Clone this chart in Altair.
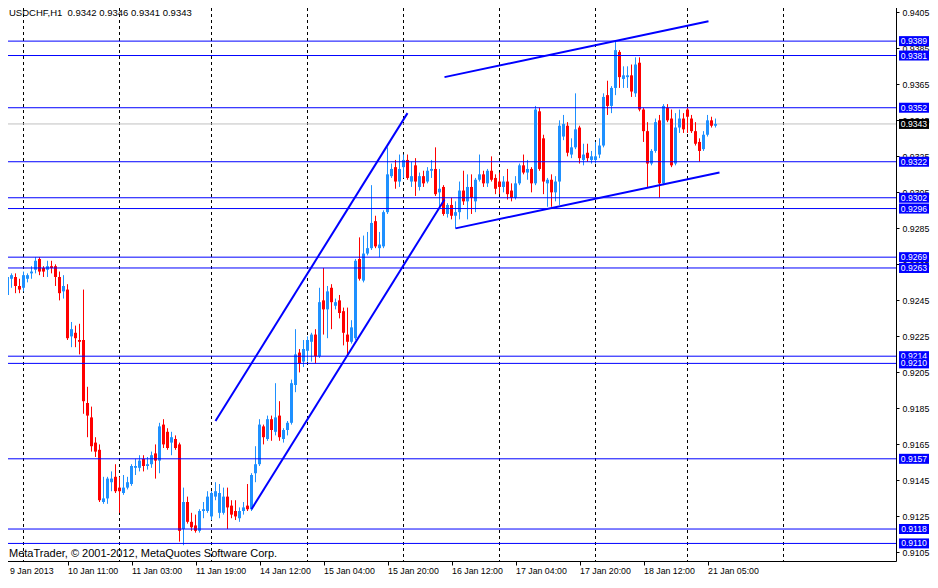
import json

import altair as alt
import pandas as pd

# USDCHF H1 candles, 9 Jan 2013 19:00 .. 21 Jan 2013 07:00 (one per bar slot)
opens = [
    0.9244, 0.9248, 0.9257, 0.9258, 0.9253, 0.9252, 0.9257, 0.9260, 0.9262, 0.9268,
    0.9263, 0.9262, 0.9264, 0.9264, 0.9258, 0.9250, 0.9251, 0.9225, 0.9227, 0.9223,
    0.9223, 0.9188, 0.9180, 0.9166, 0.9162, 0.9133, 0.9135, 0.9144, 0.9147, 0.9141,
    0.9138, 0.9141, 0.9143, 0.9152, 0.9152, 0.9157, 0.9153, 0.9154, 0.9160, 0.9156,
    0.9176, 0.9172, 0.9166, 0.9168, 0.9165, 0.9118, 0.9133, 0.9122, 0.9120, 0.9117,
    0.9128, 0.9128, 0.9125, 0.9136, 0.9127, 0.9127, 0.9136, 0.9131, 0.9128, 0.9124,
    0.9128, 0.9131, 0.9129, 0.9149, 0.9154, 0.9175, 0.9168, 0.9179, 0.9172, 0.9181,
    0.9168, 0.9173, 0.9177, 0.9198, 0.9216, 0.9211, 0.9217, 0.9222, 0.9226, 0.9214,
    0.9245, 0.9240, 0.9252, 0.9242, 0.9245, 0.9239, 0.9226, 0.9222, 0.9224, 0.9268,
    0.9256, 0.9271, 0.9274, 0.9289, 0.9274, 0.9275, 0.9294, 0.9314, 0.9319, 0.9311,
    0.9319, 0.9323, 0.9311, 0.9320, 0.9308, 0.9314, 0.9311, 0.9317, 0.9318, 0.9305,
    0.9308, 0.9293, 0.9298, 0.9292, 0.9294, 0.9306, 0.9300, 0.9308, 0.9300, 0.9312,
    0.9315, 0.9310, 0.9317, 0.9313, 0.9311, 0.9308, 0.9311, 0.9306, 0.9302, 0.9310,
    0.9320, 0.9316, 0.9318, 0.9310, 0.9350, 0.9335, 0.9310, 0.9312, 0.9305, 0.9311,
    0.9336, 0.9342, 0.9326, 0.9330, 0.9341, 0.9323, 0.9327, 0.9323, 0.9323, 0.9326,
    0.9331, 0.9359, 0.9353, 0.9363, 0.9383, 0.9368, 0.9369, 0.9370, 0.9360, 0.9377,
    0.9351, 0.9339, 0.9321, 0.9328, 0.9345, 0.9310, 0.9352, 0.9346, 0.9321, 0.9341,
    0.9346, 0.9351, 0.9346, 0.9339, 0.9333, 0.9329, 0.9337, 0.9345, 0.9342,
]
highs = [
    0.9253, 0.9263, 0.9260, 0.9260, 0.9257, 0.9261, 0.9260, 0.9264, 0.9269, 0.9269,
    0.9264, 0.9267, 0.9267, 0.9265, 0.9261, 0.9259, 0.9254, 0.9233, 0.9231, 0.9232,
    0.9251, 0.9197, 0.9186, 0.9169, 0.9165, 0.9147, 0.9147, 0.9150, 0.9154, 0.9147,
    0.9148, 0.9147, 0.9154, 0.9157, 0.9159, 0.9159, 0.9158, 0.9161, 0.9165, 0.9177,
    0.9179, 0.9174, 0.9172, 0.9170, 0.9166, 0.9141, 0.9136, 0.9127, 0.9126, 0.9129,
    0.9133, 0.9139, 0.9139, 0.9144, 0.9143, 0.9141, 0.9141, 0.9134, 0.9134, 0.9130,
    0.9133, 0.9143, 0.9149, 0.9164, 0.9179, 0.9176, 0.9181, 0.9181, 0.9199, 0.9189,
    0.9174, 0.9178, 0.9201, 0.9229, 0.9218, 0.9223, 0.9225, 0.9227, 0.9229, 0.9252,
    0.9263, 0.9253, 0.9254, 0.9246, 0.9248, 0.9241, 0.9241, 0.9234, 0.9268, 0.9280,
    0.9281, 0.9283, 0.9309, 0.9292, 0.9283, 0.9295, 0.9330, 0.9321, 0.9323, 0.9326,
    0.9326, 0.9326, 0.9322, 0.9324, 0.9316, 0.9317, 0.9319, 0.9323, 0.9330, 0.9318,
    0.9309, 0.9299, 0.9302, 0.9300, 0.9311, 0.9317, 0.9315, 0.9315, 0.9313, 0.9326,
    0.9317, 0.9318, 0.9325, 0.9315, 0.9316, 0.9314, 0.9318, 0.9310, 0.9314, 0.9321,
    0.9326, 0.9323, 0.9319, 0.9353, 0.9352, 0.9337, 0.9313, 0.9315, 0.9314, 0.9345,
    0.9348, 0.9344, 0.9335, 0.9360, 0.9342, 0.9332, 0.9332, 0.9328, 0.9333, 0.9335,
    0.9360, 0.9367, 0.9364, 0.9389, 0.9384, 0.9375, 0.9375, 0.9376, 0.9380, 0.9380,
    0.9352, 0.9344, 0.9329, 0.9346, 0.9348, 0.9354, 0.9354, 0.9351, 0.9349, 0.9351,
    0.9349, 0.9352, 0.9348, 0.9344, 0.9335, 0.9339, 0.9348, 0.9347, 0.9346,
]
lows = [
    0.9241, 0.9246, 0.9252, 0.9249, 0.9249, 0.9250, 0.9255, 0.9257, 0.9260, 0.9259,
    0.9258, 0.9258, 0.9260, 0.9253, 0.9245, 0.9246, 0.9223, 0.9219, 0.9219, 0.9215,
    0.9182, 0.9169, 0.9161, 0.9158, 0.9133, 0.9132, 0.9132, 0.9139, 0.9138, 0.9127,
    0.9137, 0.9140, 0.9142, 0.9148, 0.9150, 0.9150, 0.9151, 0.9152, 0.9146, 0.9149,
    0.9163, 0.9162, 0.9159, 0.9162, 0.9111, 0.9109, 0.9121, 0.9117, 0.9116, 0.9116,
    0.9124, 0.9127, 0.9123, 0.9134, 0.9124, 0.9126, 0.9118, 0.9124, 0.9123, 0.9122,
    0.9126, 0.9128, 0.9128, 0.9144, 0.9153, 0.9165, 0.9167, 0.9167, 0.9170, 0.9167,
    0.9166, 0.9170, 0.9176, 0.9194, 0.9205, 0.9208, 0.9211, 0.9211, 0.9210, 0.9213,
    0.9226, 0.9224, 0.9229, 0.9240, 0.9235, 0.9220, 0.9215, 0.9221, 0.9223, 0.9256,
    0.9255, 0.9270, 0.9273, 0.9274, 0.9269, 0.9274, 0.9293, 0.9313, 0.9307, 0.9308,
    0.9313, 0.9312, 0.9308, 0.9303, 0.9306, 0.9308, 0.9310, 0.9313, 0.9303, 0.9297,
    0.9292, 0.9291, 0.9290, 0.9285, 0.9290, 0.9298, 0.9290, 0.9293, 0.9294, 0.9311,
    0.9308, 0.9308, 0.9311, 0.9304, 0.9304, 0.9305, 0.9301, 0.9300, 0.9301, 0.9309,
    0.9315, 0.9312, 0.9305, 0.9309, 0.9317, 0.9304, 0.9297, 0.9297, 0.9300, 0.9298,
    0.9334, 0.9325, 0.9324, 0.9329, 0.9321, 0.9320, 0.9322, 0.9321, 0.9321, 0.9324,
    0.9330, 0.9348, 0.9349, 0.9359, 0.9363, 0.9363, 0.9363, 0.9358, 0.9358, 0.9350,
    0.9333, 0.9308, 0.9320, 0.9327, 0.9302, 0.9309, 0.9344, 0.9319, 0.9320, 0.9338,
    0.9338, 0.9338, 0.9338, 0.9331, 0.9322, 0.9328, 0.9336, 0.9341, 0.9341,
]
closes = [
    0.9247, 0.9258, 0.9259, 0.9253, 0.9251, 0.9259, 0.9259, 0.9261, 0.9267, 0.9261,
    0.9261, 0.9264, 0.9263, 0.9258, 0.9249, 0.9253, 0.9224, 0.9229, 0.9224, 0.9222,
    0.9189, 0.9181, 0.9164, 0.9161, 0.9134, 0.9135, 0.9146, 0.9146, 0.9139, 0.9139,
    0.9141, 0.9144, 0.9153, 0.9153, 0.9156, 0.9153, 0.9154, 0.9159, 0.9156, 0.9175,
    0.9165, 0.9163, 0.9169, 0.9163, 0.9117, 0.9133, 0.9122, 0.9119, 0.9117, 0.9128,
    0.9129, 0.9136, 0.9138, 0.9139, 0.9138, 0.9136, 0.9130, 0.9126, 0.9125, 0.9128,
    0.9130, 0.9129, 0.9148, 0.9154, 0.9176, 0.9169, 0.9179, 0.9173, 0.9180, 0.9169,
    0.9173, 0.9177, 0.9199, 0.9215, 0.9210, 0.9218, 0.9223, 0.9226, 0.9214, 0.9244,
    0.9240, 0.9250, 0.9244, 0.9244, 0.9238, 0.9227, 0.9222, 0.9230, 0.9267, 0.9257,
    0.9271, 0.9274, 0.9288, 0.9275, 0.9276, 0.9294, 0.9315, 0.9318, 0.9311, 0.9318,
    0.9323, 0.9313, 0.9314, 0.9311, 0.9314, 0.9310, 0.9317, 0.9318, 0.9304, 0.9307,
    0.9293, 0.9298, 0.9292, 0.9294, 0.9306, 0.9300, 0.9308, 0.9302, 0.9312, 0.9315,
    0.9310, 0.9317, 0.9312, 0.9307, 0.9308, 0.9311, 0.9304, 0.9302, 0.9310, 0.9320,
    0.9316, 0.9318, 0.9310, 0.9351, 0.9318, 0.9311, 0.9312, 0.9305, 0.9311, 0.9342,
    0.9343, 0.9327, 0.9330, 0.9340, 0.9324, 0.9326, 0.9324, 0.9325, 0.9325, 0.9331,
    0.9358, 0.9353, 0.9363, 0.9384, 0.9369, 0.9370, 0.9370, 0.9361, 0.9376, 0.9351,
    0.9339, 0.9321, 0.9328, 0.9344, 0.9310, 0.9353, 0.9345, 0.9320, 0.9341, 0.9346,
    0.9340, 0.9347, 0.9339, 0.9332, 0.9328, 0.9337, 0.9345, 0.9342, 0.9343,
]

# horizontal support / resistance levels and the current bid
levels = [0.9389, 0.9381, 0.9352, 0.9322, 0.9302, 0.9296, 0.9269, 0.9263,
          0.9214, 0.9210, 0.9157, 0.9118, 0.9110]
bid = 0.9343

# trend lines: (bar, price) -> (bar, price)
trend_x1 = [53, 62, 110.25, 113]
trend_y1 = [0.9178, 0.9129, 0.9369, 0.9285]
trend_x2 = [101, 110.25, 176.25, 179]
trend_y2 = [0.9349, 0.9301, 0.9400, 0.9316]

price_ticks = [0.9105, 0.9125, 0.9145, 0.9165, 0.9185, 0.9205, 0.9225, 0.9245,
               0.9265, 0.9285, 0.9305, 0.9325, 0.9345, 0.9365, 0.9385, 0.9405]
time_ticks = [0, 16, 32, 48, 64, 80, 96, 112, 128, 144, 160, 176]
time_labels = ["9 Jan 2013", "10 Jan 11:00", "11 Jan 03:00", "11 Jan 19:00",
               "14 Jan 12:00", "15 Jan 04:00", "15 Jan 20:00", "16 Jan 12:00",
               "17 Jan 04:00", "17 Jan 20:00", "18 Jan 12:00", "21 Jan 05:00"]
day_starts = [5, 29, 52, 76, 100, 124, 148, 171, 195]

# plot area; kept a little under the 938x588 window so the page never overflows
W, H = 894, 559
FONT = "Liberation Sans"
BLUE_UP = "#1e90ff"
RED_DN = "#ff0000"
LINE_BLUE = "#0000ff"

bars = pd.DataFrame({"bar": range(len(opens)), "open": opens, "high": highs,
                     "low": lows, "close": closes})
bars["dir"] = ["up" if c >= o else "down" for o, c in zip(opens, closes)]

x_scale = alt.Scale(domain=[-0.375, -0.375 + W / 4], nice=False, zero=False, padding=0)
y_scale = alt.Scale(domain=[0.910024, 0.941073], nice=False, zero=False, padding=0)
color = alt.Color("dir:N", scale=alt.Scale(domain=["up", "down"], range=[BLUE_UP, RED_DN]),
                  legend=None)

# same axis objects go on every layer so the layered axes merge instead of vanishing
x_axis = alt.Axis(
    values=time_ticks,
    labelExpr=json.dumps(time_labels) + "[round(datum.value / 16)]",
    orient="bottom", title=None, grid=False, domain=False,
    tickSize=4, tickColor="black", labelPadding=1, labelAlign="left",
    labelBaseline="top", labelFont=FONT, labelFontSize=8.8, labelColor="black",
    labelOverlap=False, labelFlush=False,
    labelOffset=alt.condition("datum.value == 0", alt.value(6), alt.value(0)),
)
y_axis = alt.Axis(
    values=price_ticks, format=".4f", orient="right", title=None, grid=False,
    domain=False, tickSize=3, tickColor="black", labelPadding=3, labelAlign="left",
    labelBaseline="middle", labelFont=FONT, labelFontSize=8.8, labelColor="black",
    labelOverlap=False,
)


def X(field):
    return alt.X(field, scale=x_scale, axis=x_axis)


def Y(field):
    return alt.Y(field, scale=y_scale, axis=y_axis)


grid = (
    alt.Chart(pd.DataFrame({"bar": day_starts}))
    .mark_rule(color="black", strokeDash=[3, 3], strokeWidth=1)
    .encode(x=X("bar:Q"), y=alt.value(0), y2=alt.value(H))
)

bid_line = (
    alt.Chart(pd.DataFrame({"price": [bid]}))
    .mark_rule(color="#c0c0c0", strokeWidth=1)
    .encode(y=Y("price:Q"), x=alt.value(0), x2=alt.value(W))
)

wicks = (
    alt.Chart(bars)
    .mark_rule(strokeWidth=1)
    .encode(x=X("bar:Q"), y=Y("low:Q"), y2="high:Q", color=color)
)

bodies = (
    alt.Chart(bars)
    .mark_bar(width=3)
    .encode(x=X("bar:Q"), y=Y("open:Q"), y2="close:Q", color=color)
)

level_df = pd.DataFrame({"price": levels})
level_lines = (
    alt.Chart(level_df)
    .mark_rule(color=LINE_BLUE, strokeWidth=1)
    .encode(y=Y("price:Q"), x=alt.value(0), x2=alt.value(W))
)

trend_df = pd.DataFrame({"x1": trend_x1, "y1": trend_y1, "x2": trend_x2, "y2": trend_y2})
trends = (
    alt.Chart(trend_df)
    .mark_rule(color=LINE_BLUE, strokeWidth=2)
    .encode(x=X("x1:Q"), x2="x2:Q", y=Y("y1:Q"), y2="y2:Q")
)


def price_tag(price, fill):
    df = pd.DataFrame({"price": [price]})
    box = (
        alt.Chart(df)
        .mark_rect(color=fill, yOffset=-5, y2Offset=5)
        .encode(y=Y("price:Q"), y2="price:Q", x=alt.value(W + 3), x2=alt.value(W + 33))
    )
    txt = (
        alt.Chart(df)
        .mark_text(color="white", font=FONT, fontSize=8.6, align="center", baseline="middle")
        .encode(y=Y("price:Q"), x=alt.value(W + 18), text=alt.Text("price:Q", format=".4f"))
    )
    return [box, txt]


# one box + text per level, so a later tag covers the one above it like in MetaTrader
tags = []
for lv in levels:
    tags += price_tag(lv, LINE_BLUE)
tags += price_tag(bid, "black")

header = (
    alt.Chart(pd.DataFrame({"t": [0]}))
    .mark_text(align="left", baseline="alphabetic", font=FONT, fontSize=9.5, color="black")
    .encode(
        x=alt.value(7),
        y=alt.value(14),
        text=alt.value(
            f"USDCHF,H1\u00a0 {opens[-1]:.4f} {highs[-1]:.4f} {lows[-1]:.4f} {closes[-1]:.4f}"
        ),
    )
)
copyright_text = (
    alt.Chart(pd.DataFrame({"t": [0]}))
    .mark_text(align="left", baseline="alphabetic", font=FONT, fontSize=11, color="black")
    .encode(
        x=alt.value(7),
        y=alt.value(H - 4),
        text=alt.value("MetaTrader, \u00a9 2001-2012, MetaQuotes Software Corp."),
    )
)

chart = (
    alt.layer(grid, bid_line, wicks, bodies, level_lines, trends,
              *tags, header, copyright_text)
    .properties(
        width=W,
        height=H,
        padding={"left": -6, "top": -6, "right": 34, "bottom": 14},
        autosize=alt.AutoSizeParams(type="none"),
        background="white",
    )
    .configure_view(stroke="black", strokeWidth=1)
)

chart.save("out.html", embed_options={"renderer": "svg", "actions": False})
